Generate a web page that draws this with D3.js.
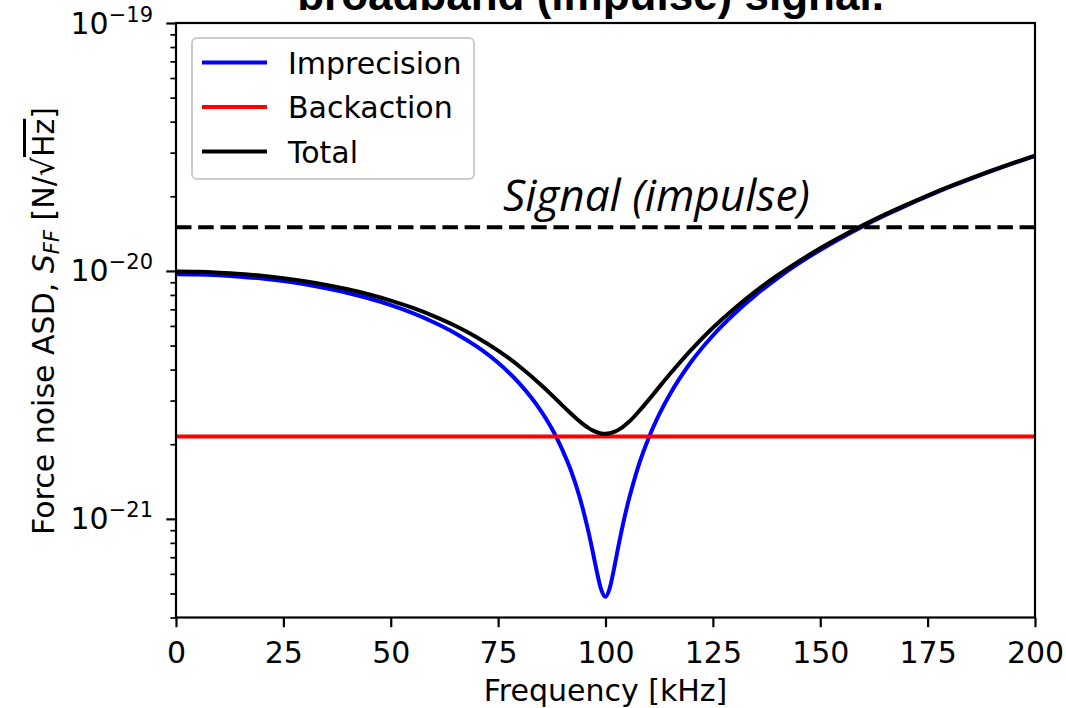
<!DOCTYPE html>
<html>
<head>
<meta charset="utf-8">
<script src="https://cdn.jsdelivr.net/npm/d3@7"></script>
<style>
  html, body { margin: 0; padding: 0; background: #fff; }
  svg { display: block; }
</style>
</head>
<body>
<svg id="chart" width="1066" height="708"></svg>
<script>
// ---- data ----
const UNIT = 1e-21; // values below are in units of 1e-21 N/sqrt(Hz)
const frequency = [0,5,10,15,20,25,30,35,40,45,50,55,60,65,70,75,80,85,88,90,92,94,95,96,97,98,99,100,101,102,103,104,105,106,108,110,112,115,120,125,130,135,140,145,150,155,160,165,170,175,180,185,190,195,200];
const imprecision = [9.70,9.676,9.60,9.482,9.31,9.095,8.83,8.514,8.15,7.739,7.28,6.771,6.21,5.611,4.96,4.26,3.51,2.72,2.23,1.89,1.56,1.22,1.052,0.892,0.742,0.611,0.518,0.485,0.527,0.631,0.774,0.939,1.117,1.30,1.70,2.11,2.53,3.18,4.31,5.49,6.72,8.005,9.34,10.72,12.15,13.62,15.15,16.73,18.35,20.02,21.75,23.52,25.33,27.20,29.12];
const total = [9.935,9.912,9.838,9.723,9.555,9.346,9.088,8.781,8.429,8.032,7.591,7.104,6.571,6.009,5.406,4.772,4.116,3.467,3.097,2.862,2.655,2.472,2.394,2.328,2.274,2.235,2.211,2.204,2.214,2.241,2.285,2.346,2.423,2.512,2.741,3.012,3.320,3.838,4.817,5.897,7.055,8.289,9.584,10.93,12.34,13.79,15.30,16.87,18.47,20.14,21.86,23.62,25.42,27.28,29.20];
const backaction = 2.15;  // constant level
const signalLevel = 15.0; // dashed line
const xTicks = [0,25,50,75,100,125,150,175,200];
const yMajorExp = [-21,-20,-19];
const legendLabels = ["Imprecision","Backaction","Total"];
const legendColors = ["#0000ff","#ff0000","#000000"];

// ---- layout ----
const FS = 30, FSS = 21;
const L = 176, R = 1035, T = 23, B = 617.5;
const svg = d3.select("#chart");
const x = d3.scaleLinear().domain([0,200]).range([L,R]);
const y = d3.scaleLog().domain([4e-22,1e-19]).range([B,T]);

svg.append("defs").append("clipPath").attr("id","clip")
  .append("rect").attr("x",L).attr("y",T).attr("width",R-L).attr("height",B-T);

const plot = svg.append("g").attr("clip-path","url(#clip)");
const line = d3.line().curve(d3.curveMonotoneX);

const impPts = frequency.map((f,i)=>[x(f), y(imprecision[i]*UNIT)]);
const totPts = frequency.map((f,i)=>[x(f), y(total[i]*UNIT)]);

plot.append("path").attr("d", line(impPts)).attr("fill","none")
  .attr("stroke","#0000ff").attr("stroke-width",4).attr("stroke-linejoin","round");
plot.append("line").attr("x1",x(0)).attr("x2",x(200))
  .attr("y1",y(backaction*UNIT)).attr("y2",y(backaction*UNIT))
  .attr("stroke","#ff0000").attr("stroke-width",4);
plot.append("path").attr("d", line(totPts)).attr("fill","none")
  .attr("stroke","#000").attr("stroke-width",4).attr("stroke-linejoin","round");
plot.append("line").attr("x1",x(0)).attr("x2",x(200))
  .attr("y1",y(signalLevel*UNIT)).attr("y2",y(signalLevel*UNIT))
  .attr("stroke","#000").attr("stroke-width",4).attr("stroke-dasharray","15.5,6.7");

// signal label
const sig = svg.append("text").attr("x",503).attr("y",211)
  .attr("font-family","'Open Sans', 'Noto Sans', sans-serif")
  .attr("font-style","italic").attr("font-size",40).attr("fill","#000")
  .text("Signal (impulse)");
const sw = sig.node().getComputedTextLength();
if (sw > 0) sig.attr("font-size", 40*307/sw);

// ---- axes ----
const xAxis = d3.axisBottom(x).tickValues(xTicks).tickSize(9.7).tickPadding(14).tickFormat(d3.format("d"));
const gx = svg.append("g").attr("transform",`translate(0,${B})`).call(xAxis);
gx.select(".domain").remove();
gx.selectAll(".tick line").attr("stroke","#000").attr("stroke-width",2.2);
gx.selectAll(".tick text").attr("font-family","'DejaVu Sans', sans-serif").attr("font-size",FS).attr("fill","#000");

// y minor ticks
const minorVals = [];
for (let e = -22; e <= -20; e++) for (let m = 2; m <= 9; m++) {
  const v = m*Math.pow(10,e);
  if (v >= 3.99e-22 && v <= 1e-19) minorVals.push(v);
}
const yMinor = d3.axisLeft(y).tickValues(minorVals).tickSize(5.6).tickFormat("");
const gym = svg.append("g").attr("transform",`translate(${L},0)`).call(yMinor);
gym.select(".domain").remove();
gym.selectAll(".tick line").attr("stroke","#000").attr("stroke-width",1.7);

const yMajor = d3.axisLeft(y).tickValues(yMajorExp.map(e=>Math.pow(10,e))).tickSize(9.7).tickFormat("");
const gy = svg.append("g").attr("transform",`translate(${L},0)`).call(yMajor);
gy.select(".domain").remove();
gy.selectAll(".tick line").attr("stroke","#000").attr("stroke-width",2.2);
yMajorExp.forEach(e => {
  const t = svg.append("text").attr("x",153).attr("y",y(Math.pow(10,e))+10.5)
    .attr("text-anchor","end").attr("font-family","'DejaVu Sans', sans-serif")
    .attr("font-size",FS).attr("fill","#000");
  t.append("tspan").text("10");
  t.append("tspan").attr("font-size",FSS).attr("dy",-12).text("\u2212" + Math.abs(e));
});

// frame
svg.append("rect").attr("x",L).attr("y",T).attr("width",R-L).attr("height",B-T)
  .attr("fill","none").attr("stroke","#000").attr("stroke-width",2.2);

// x label
svg.append("text").attr("x",(L+R)/2).attr("y",701).attr("text-anchor","middle")
  .attr("font-family","'DejaVu Sans', sans-serif").attr("font-size",FS).attr("fill","#000")
  .text("Frequency [kHz]");

// y label
const yl = svg.append("text").attr("transform",`translate(54,321) rotate(-90)`)
  .attr("text-anchor","middle").attr("font-family","'DejaVu Sans', sans-serif")
  .attr("font-size",FS).attr("fill","#000");
yl.append("tspan").text("Force noise ASD, ");
yl.append("tspan").attr("font-style","italic").text("S");
yl.append("tspan").attr("font-style","italic").attr("font-size",FSS).attr("dy",5).text("FF");
yl.append("tspan").attr("dy",-5).text(" [N/\u221A");
yl.append("tspan").style("text-decoration","overline").text("Hz");
yl.append("tspan").text("]");

// title (partially cut off at top, as in the reference)
svg.append("text").attr("x",(L+R)/2 - 15).attr("y",10).attr("text-anchor","middle")
  .attr("font-family","'Liberation Sans', Arial, sans-serif").attr("font-weight","bold")
  .attr("font-size",44).attr("fill","#000").text("broadband (impulse) signal.");

// legend
const lg = svg.append("g");
lg.append("rect").attr("x",192).attr("y",38).attr("width",282).attr("height",141)
  .attr("rx",5).attr("fill","#fff").attr("fill-opacity",0.8)
  .attr("stroke","#cccccc").attr("stroke-width",2);
legendLabels.forEach((lab,i) => {
  const yy = 62.5 + i*44.5;
  lg.append("line").attr("x1",202).attr("x2",267).attr("y1",yy).attr("y2",yy)
    .attr("stroke",legendColors[i]).attr("stroke-width",4);
  lg.append("text").attr("x",288).attr("y",yy+11).attr("font-family","'DejaVu Sans', sans-serif")
    .attr("font-size",FS).attr("fill","#000").text(lab);
});
</script>
</body>
</html>
